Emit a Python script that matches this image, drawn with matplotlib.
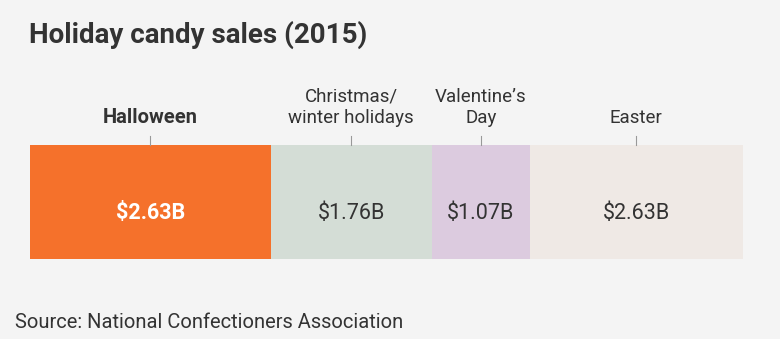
import matplotlib
matplotlib.use('Agg')
import matplotlib.pyplot as plt
import matplotlib.transforms as mtransforms

# data
holidays = ['Halloween', 'Christmas/\nwinter holidays', 'Valentine\u2019s\nDay', 'Easter']
sales = [2.63, 1.76, 1.07, 2.63]
valueLabels = ['$2.63B', '$1.76B', '$1.07B', '$2.63B']
colors = ['#f5712b', '#d4ddd6', '#dccbdf', '#efe9e5']
textColors = ['#ffffff', '#333333', '#333333', '#333333']

bg = '#f4f4f4'
dark = '#333333'
plt.rcParams['font.family'] = ['Roboto', 'DejaVu Sans']

fig = plt.figure(figsize=(7.8, 3.39), dpi=100, facecolor=bg)
# bar area in pixels: x 30..743, y 145..259
ax = fig.add_axes([30 / 780, (339 - 259) / 339, 713 / 780, 114 / 339])
ax.set_facecolor(bg)

lefts = []
acc = 0
for v in sales:
    lefts.append(acc)
    acc += v

ax.barh([0] * len(sales), sales, left=lefts, height=1.0, color=colors, linewidth=0)
# the easter segment runs past the edge of the original graphic
xmax = 7.79
ax.set_xlim(0, xmax)
ax.set_ylim(-0.5, 0.5)
ax.axis('off')

trans = mtransforms.blended_transform_factory(ax.transData, ax.transAxes)
for i in range(len(sales)):
    right = min(lefts[i] + sales[i], xmax)
    cx = (lefts[i] + right) / 2
    ax.text(cx, -0.1, valueLabels[i], ha='center', va='center', fontsize=15.5,
            fontweight='bold' if i == 0 else 'normal', color=textColors[i])
    ax.plot([cx, cx], [1.0, 1.08], transform=trans, color='#999999', lw=0.8, clip_on=False)
    ax.text(cx, 1.19, holidays[i], transform=trans, ha='center', va='baseline',
            fontsize=14.5 if i == 0 else 13.5, color=dark,
            fontweight='bold' if i == 0 else 'normal', linespacing=1.25)

fig.text(29 / 780, 1 - 43 / 339, 'Holiday candy sales (2015)', ha='left', va='baseline',
         fontsize=20, fontweight='bold', color=dark)
fig.text(15 / 780, 1 - 328 / 339, 'Source: National Confectioners Association', ha='left',
         va='baseline', fontsize=14.5, color=dark)

fig.savefig('out.png', dpi=100, facecolor=bg)
